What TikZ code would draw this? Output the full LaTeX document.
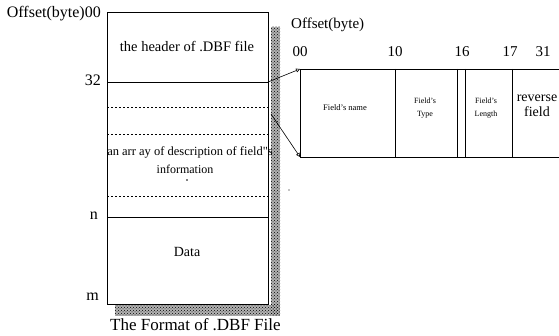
\documentclass[tikz,border=0pt]{standalone}
\usepackage{fontspec}
\setmainfont{Liberation Serif}
\usetikzlibrary{arrows.meta,patterns}
\begin{document}
\begin{tikzpicture}[x=1pt,y=-1pt,
  lbl/.style={inner sep=0pt,anchor=center},
  solidline/.style={line width=0.9pt},
  dotline/.style={line width=0.7pt,dash pattern=on 1.5pt off 2.5pt},
  shadebg/.style={fill=black!30},
  shade/.style={pattern=crosshatch dots,pattern color=black},
  conn/.style={line width=0.6pt,-{Triangle[open,length=4pt,width=4pt]}},
  recline/.style={line width=0.8pt}]
\useasboundingbox (0,0) rectangle (559,336);
% shadow of the file box
\fill[shadebg] (271,27) rectangle (280,316);
\fill[shadebg] (115,305) rectangle (280,316);
\fill[shade] (271,27) rectangle (280,316);
\fill[shade] (115,305) rectangle (280,316);
% file box
\node[draw,line width=0.9pt,minimum width=161pt,minimum height=292pt,inner sep=0pt,anchor=north west] (file) at (107,12) {};
\coordinate (r32) at (268,82);
\coordinate (l32) at (107,82);
\coordinate (ln) at (107,217);
\coordinate (rn) at (268,217);
\draw[solidline] (l32) -- (r32);
\draw[solidline] (ln) -- (rn);
\draw[dotline] (107,107) -- (268,107);
\draw[dotline] (107,134) -- (268,134);
\draw[dotline] (107,196) -- (268,196);
% texts in file box
\node[lbl,font=\fontsize{14.5}{16}\selectfont] (hdr) at (187,47) {the header of .DBF file};
\node[lbl,font=\fontsize{12.5}{14}\selectfont] (arr) at (190,152) {an arr ay of description of field\textquotedbl s};
\node[lbl,font=\fontsize{12}{14}\selectfont] (info) at (185,169) {information};
\fill (187,180) circle (0.9pt);
\node[lbl,font=\fontsize{14}{16}\selectfont] (data) at (187,252) {Data};
% left offset labels
\node[lbl,anchor=east,font=\fontsize{16}{18}\selectfont] (off) at (101,14) {Offset(byte)00};
\node[lbl,anchor=east,font=\fontsize{16}{18}\selectfont] (o32) at (101,80) {32};
\node[lbl,anchor=east,font=\fontsize{16}{18}\selectfont] (on) at (98,216) {n};
\node[lbl,anchor=east,font=\fontsize{16}{18}\selectfont] (om) at (99,297) {m};
\node[lbl,anchor=west,font=\fontsize{17}{19}\selectfont] (cap) at (110,325) {The Format of .DBF File};
% record
\coordinate (rtl) at (300,69);
\coordinate (rbl) at (300,157);
\coordinate (rtr) at (559,69);
\coordinate (rbr) at (559,157);
\draw[recline] (rtr) -- (rtl) -- (rbl) -- (rbr);
\draw[recline] (395,69) -- (395,157);
\draw[recline] (457,69) -- (457,157);
\draw[recline] (465,69) -- (465,157);
\draw[recline] (512,69) -- (512,157);
\node[lbl,font=\fontsize{15}{17}\selectfont,anchor=west] (off2) at (291,25) {Offset(byte)};
\node[lbl,font=\fontsize{15}{17}\selectfont] (n00) at (300,52) {00};
\node[lbl,font=\fontsize{15}{17}\selectfont] (n10) at (395,52) {10};
\node[lbl,font=\fontsize{15}{17}\selectfont] (n16) at (462,52) {16};
\node[lbl,font=\fontsize{15}{17}\selectfont] (n17) at (510,52) {17};
\node[lbl,font=\fontsize{15}{17}\selectfont] (n31) at (543,52) {31};
\node[lbl,font=\fontsize{8.5}{10}\selectfont] (fname) at (345,108) {Field's name};
\node[lbl,align=center,font=\fontsize{8}{13}\selectfont] (ftype) at (425,108) {Field's\\Type};
\node[lbl,align=center,font=\fontsize{8}{13}\selectfont] (flen) at (486,108) {Field's\\Length};
\node[lbl,align=center,font=\fontsize{14}{15}\selectfont] (frev) at (537,106) {reverse\\field};
% connectors
\coordinate (c2) at (271,114);
\draw[conn] (r32) -- (rtl);
\draw[conn] (c2) -- (rbl);
\fill (289,190) circle (0.7pt);
\end{tikzpicture}
\end{document}
